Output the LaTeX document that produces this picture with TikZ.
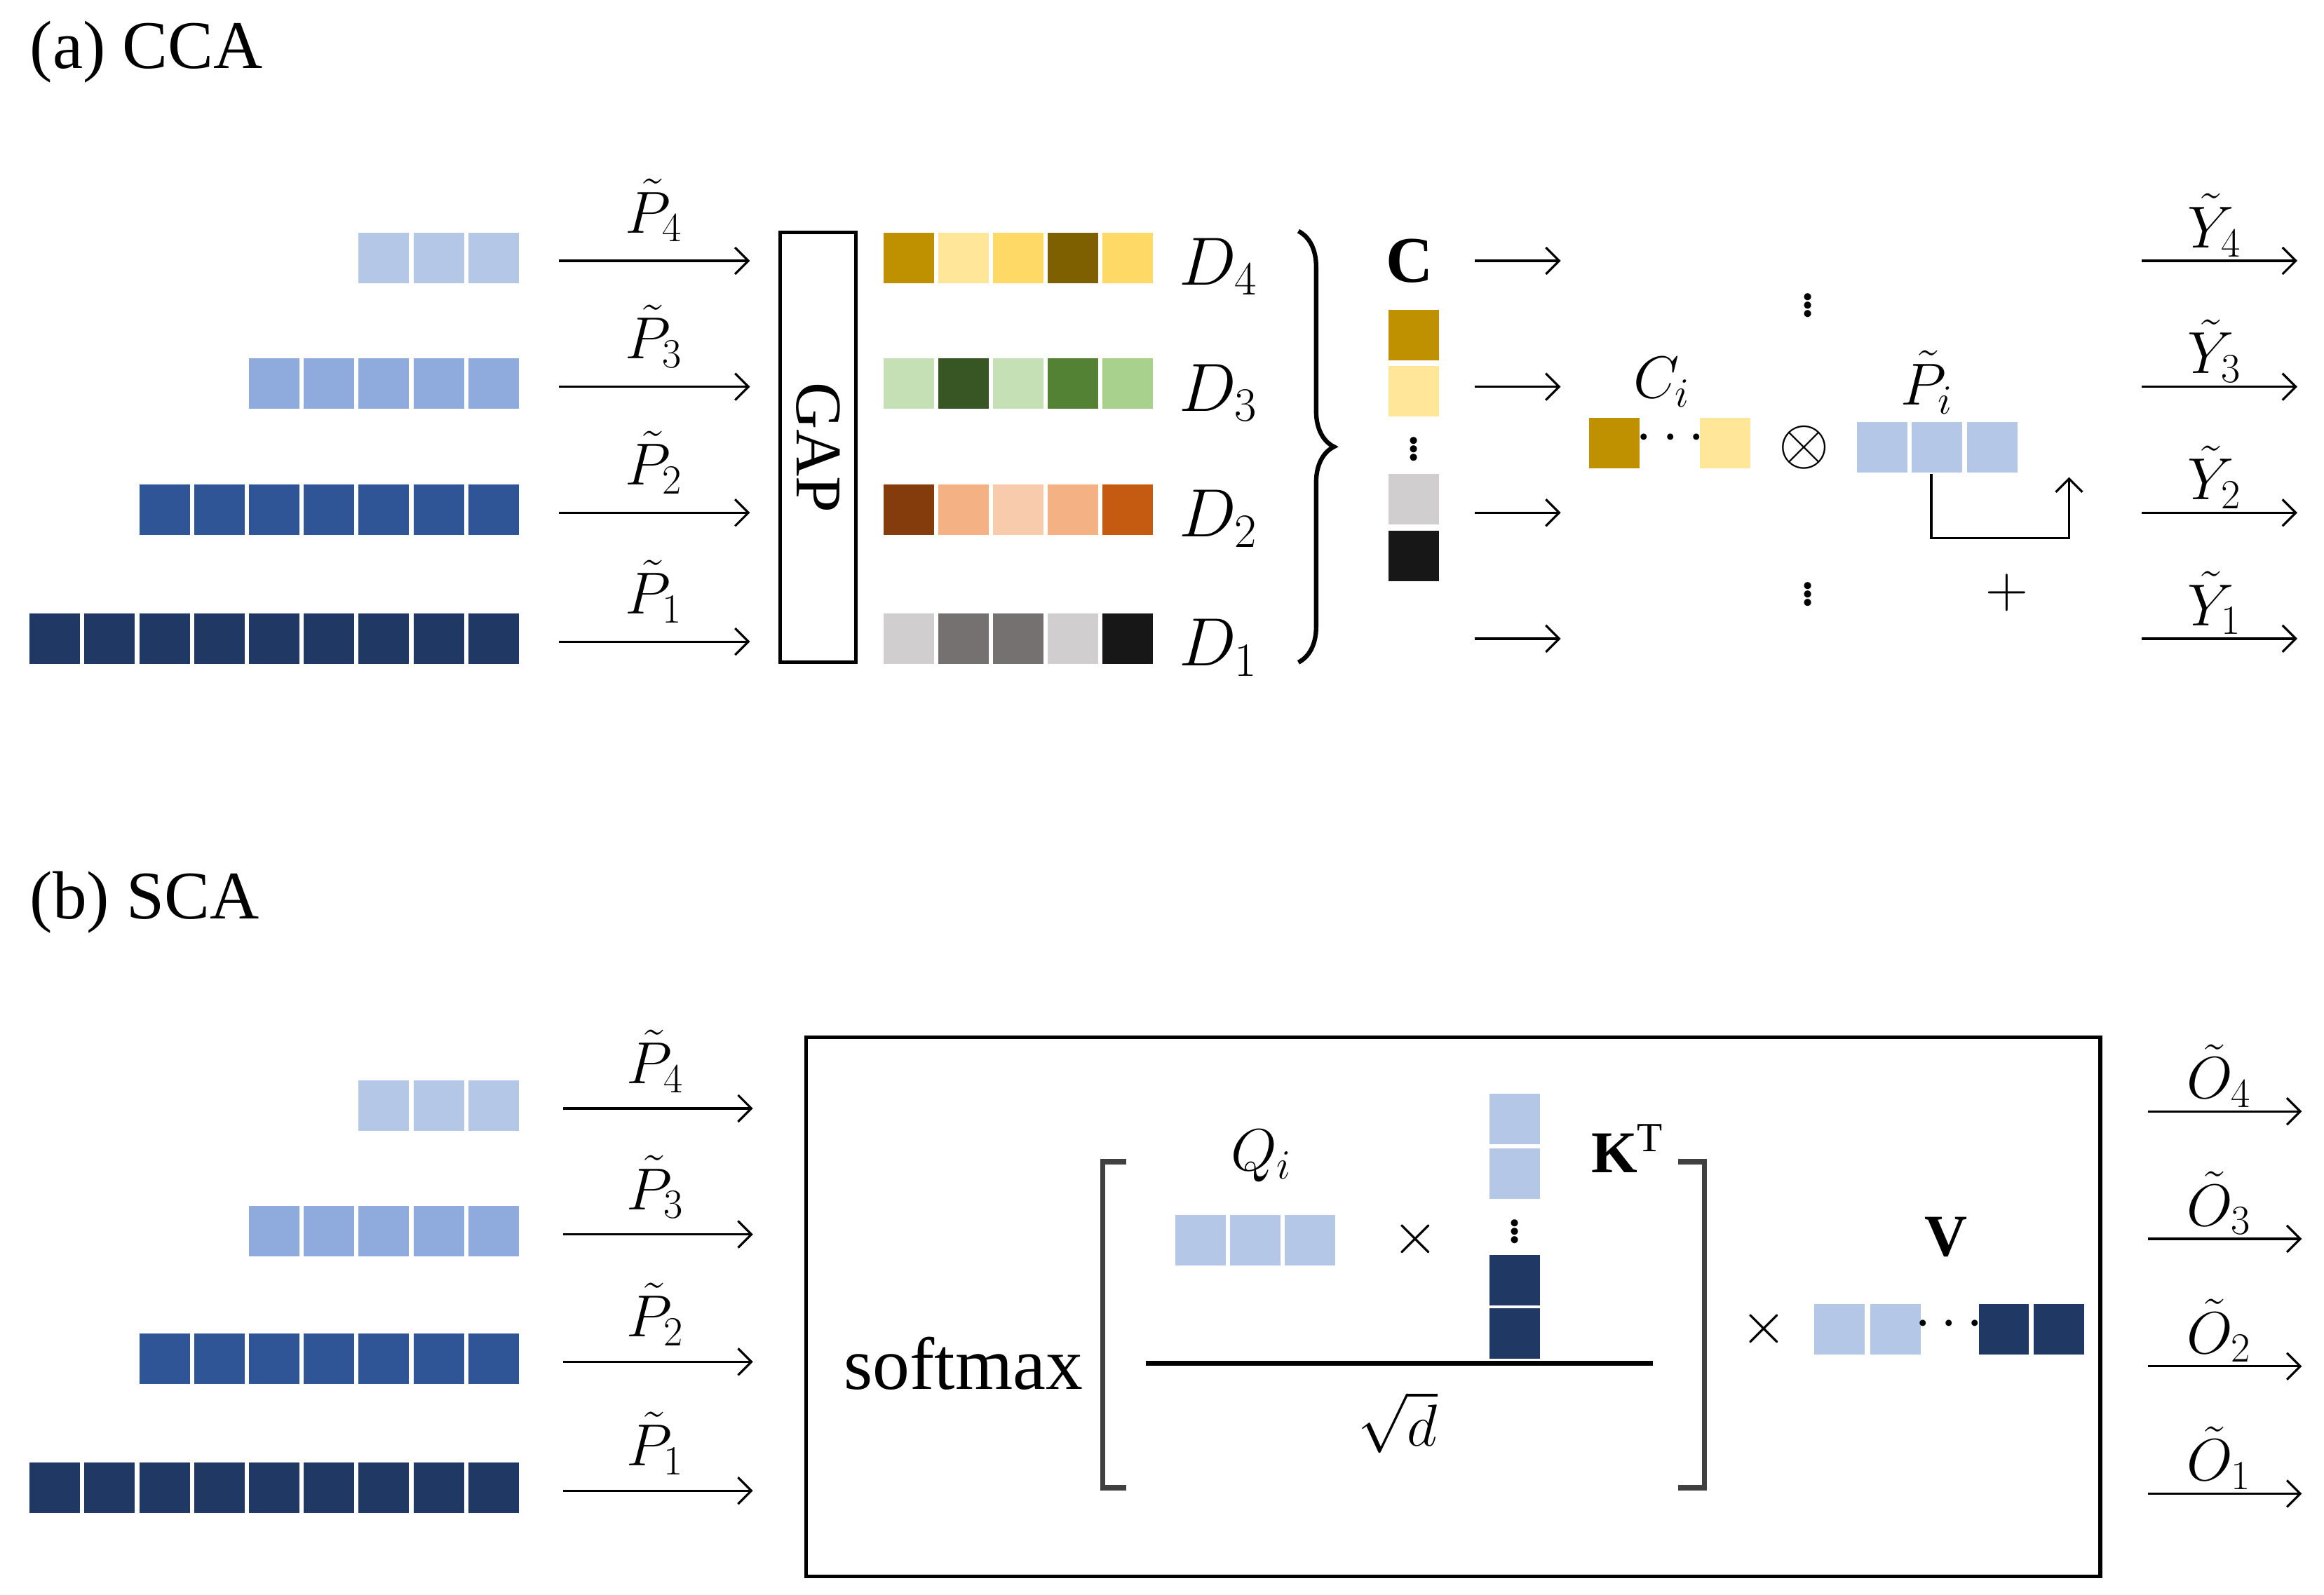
\documentclass[tikz,border=0pt]{standalone}
\usepackage{fix-cm}
\usepackage{fontspec}
\setmainfont{Liberation Serif}
\usetikzlibrary{arrows.meta,decorations.pathreplacing}
\definecolor{lb}{HTML}{B4C7E7}
\definecolor{mb}{HTML}{8FAADC}
\definecolor{db}{HTML}{2F5597}
\definecolor{nb}{HTML}{203864}
\definecolor{dA}{HTML}{BF9000}\definecolor{dB}{HTML}{FFE699}\definecolor{dC}{HTML}{FFD966}\definecolor{dD}{HTML}{7F6000}
\definecolor{gA}{HTML}{C5E0B4}\definecolor{gB}{HTML}{375623}\definecolor{gC}{HTML}{548235}\definecolor{gD}{HTML}{A9D18E}
\definecolor{oA}{HTML}{843C0C}\definecolor{oB}{HTML}{F4B183}\definecolor{oC}{HTML}{F8CBAD}\definecolor{oD}{HTML}{C55A11}
\definecolor{kA}{HTML}{D0CECE}\definecolor{kB}{HTML}{767171}\definecolor{kC}{HTML}{171717}
\definecolor{brk}{HTML}{404040}
\tikzset{
  cell/.style={minimum width=34pt,minimum height=34pt,inner sep=0,fill=#1},
  lbl/.style={font=\fontsize{40}{44}\selectfont,inner sep=0},
  arr/.style={line width=1.5pt,-{Straight Barb[length=9pt,width=18pt]}},
}
\begin{document}
\begin{tikzpicture}[x=1pt,y=-1pt]
\useasboundingbox (0,0) rectangle (1568,1076);

% (a) CCA
\node[font=\fontsize{46}{50}\selectfont,inner sep=0,anchor=west] (titleA) at (20,35) {(a) CCA};

% input rows
\foreach \r/\n/\c/\y in {4/3/lb/174,3/5/mb/259,2/7/db/344,1/9/nb/431}{
  \foreach \i in {1,...,\n}
    \node[cell=\c] (pa\r-\i) at ({333-(\i-1)*37},\y) {};
  \coordinate (ina\r) at (377,\y+2);
  \coordinate (gapa\r) at (506,\y+2);
  \draw[arr] (ina\r) -- (gapa\r);
  \node[lbl] (pla\r) at (441,\y-32) {$\tilde{P}_\r$};
}

\node[draw,line width=2.5pt,minimum width=51pt,minimum height=290pt,inner sep=0] (gap) at (552,302) {};
\node[font=\fontsize{44}{48}\selectfont,rotate=-90] (gaptext) at (gap) {GAP};

% descriptors
\foreach \r/\y/\ca/\cb/\cc/\cd/\ce in {4/174/dA/dB/dC/dD/dC,3/259/gA/gB/gA/gC/gD,2/344/oA/oB/oC/oB/oD,1/431/kA/kB/kB/kA/kC}{
  \foreach \c [count=\i] in {\ca,\cb,\cc,\cd,\ce}
    \node[cell=\c] (d\r-\i) at ({613+(\i-1)*37},\y) {};
  \node[font=\fontsize{46}{50}\selectfont,inner sep=0] (dl\r) at (822,\y+6) {$D_\r$};
}

\draw[line width=3pt,decoration={brace,amplitude=24pt,aspect=0.5},decorate] (876,156) -- (876,447);

\node[font=\bfseries\fontsize{44}{48}\selectfont,inner sep=0] (cc) at (951,176) {C};
\node[cell=dA] (c1) at (954,226) {};
\node[cell=dB] (c2) at (954,264) {};
\node[lbl] (cdots) at (954,300) {$\vdots$};
\node[cell=kA] (c3) at (954,337) {};
\node[cell=kC] (c4) at (954,375) {};

\foreach \r/\y in {4/176,3/261,2/346,1/431}{
  \coordinate (ca\r) at (995,\y);
  \coordinate (cb\r) at (1053,\y);
  \draw[arr] (ca\r) -- (cb\r);
}

\node[lbl] (ci) at (1121,258) {$C_i$};
\node[cell=dA] (ci1) at (1089,299) {};
\node[lbl] (cidots) at (1127,296) {$\cdots$};
\node[cell=dB] (ci2) at (1164,299) {};
\node[font=\fontsize{44}{48}\selectfont,inner sep=0] (otimes) at (1217,302) {$\otimes$};
\node[lbl] (pi) at (1300,258) {$\tilde{P}_i$};
\foreach \i in {1,2,3}
  \node[cell=lb] (pi\i) at ({1270+(\i-1)*37},302) {};
\coordinate (lpa) at (1303,320);
\coordinate (lpb) at (1396,322);
\draw[line width=1.5pt,-{Straight Barb[length=9pt,width=18pt]}] (lpa) |- (1396,363) -- (lpb);
\node[lbl] (plus) at (1354,400) {$+$};
\node[lbl] (vda) at (1220,203) {$\vdots$};
\node[lbl] (vdb) at (1220,398) {$\vdots$};

\foreach \r/\y in {4/176,3/261,2/346,1/431}{
  \coordinate (ya\r) at (1445,\y);
  \coordinate (yb\r) at (1550,\y);
  \draw[arr] (ya\r) -- (yb\r);
  \node[lbl] (yl\r) at (1494,\y-24) {$\tilde{Y}_\r$};
}

% (b) SCA
\node[font=\fontsize{46}{50}\selectfont,inner sep=0,anchor=west] (titleB) at (20,609) {(b) SCA};

\foreach \r/\n/\c/\y in {4/3/lb/746,3/5/mb/831,2/7/db/917,1/9/nb/1004}{
  \foreach \i in {1,...,\n}
    \node[cell=\c] (pb\r-\i) at ({333-(\i-1)*37},\y) {};
  \coordinate (inb\r) at (380,\y+2);
  \coordinate (bxb\r) at (508,\y+2);
  \draw[arr] (inb\r) -- (bxb\r);
  \node[lbl] (plb\r) at (442,\y-30) {$\tilde{P}_\r$};
}

\node[draw,line width=2.5pt,minimum width=873pt,minimum height=364pt,inner sep=0] (sca) at (980.5,882) {};
\node[font=\fontsize{50}{54}\selectfont,inner sep=0] (softmax) at (650,920) {softmax};
\draw[brk,line width=3.5pt] (760,784) -- (744,784) -- (744,1004) -- (760,1004);
\draw[brk,line width=3.5pt] (1132,784) -- (1150,784) -- (1150,1004) -- (1132,1004);

\node[lbl] (qi) at (851,780) {$Q_i$};
\foreach \i in {1,2,3}
  \node[cell=lb] (q\i) at ({810+(\i-1)*37},837) {};
\node[lbl] (tq) at (955,836) {$\times$};
\node[cell=lb] (k1) at (1022,755) {};
\node[cell=lb] (k2) at (1022,792) {};
\node[lbl] (kdots) at (1022,828) {$\vdots$};
\node[cell=nb] (k3) at (1022,864) {};
\node[cell=nb] (k4) at (1022,900) {};
\node[lbl] (kt) at (1098,775) {$\mathbf{K}^{\mathrm{T}}$};
\coordinate (fa) at (773,920);
\coordinate (fb) at (1115,920);
\draw[line width=3.5pt] (fa) -- (fb);
\node[lbl] (sqd) at (943,960) {$\sqrt{d}$};

\node[lbl] (tv) at (1190,897) {$\times$};
\node[font=\bfseries\fontsize{40}{44}\selectfont,inner sep=0] (vv) at (1313,835) {V};
\node[cell=lb] (v1) at (1241,897) {};
\node[cell=lb] (v2) at (1279,897) {};
\node[lbl] (vdots) at (1315,894) {$\cdots$};
\node[cell=nb] (v3) at (1352,897) {};
\node[cell=nb] (v4) at (1389,897) {};

\foreach \r/\y in {4/750,3/836,2/922,1/1008}{
  \coordinate (oa\r) at (1449,\y);
  \coordinate (ob\r) at (1553,\y);
  \draw[arr] (oa\r) -- (ob\r);
  \node[lbl] (ol\r) at (1497,\y-24) {$\tilde{O}_\r$};
}
\end{tikzpicture}
\end{document}
